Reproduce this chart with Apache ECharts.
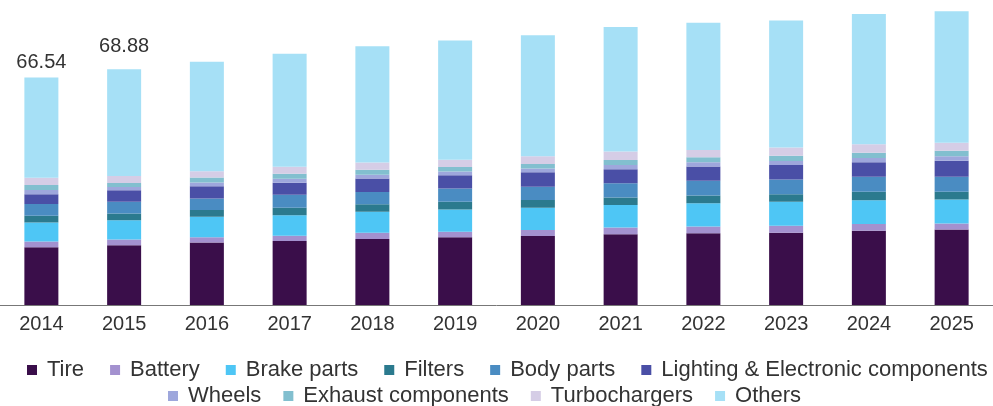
<!DOCTYPE html>
<html>
<head>
<meta charset="utf-8">
<script src="https://cdn.jsdelivr.net/npm/echarts@6/dist/echarts.min.js"></script>
<style>
html,body{margin:0;padding:0;background:#fff;}
#chart{width:993px;height:406px;}
</style>
</head>
<body>
<div id="chart"></div>
<script>
const years = ['2014','2015','2016','2017','2018','2019','2020','2021','2022','2023','2024','2025'];
const tire     = [16.9, 17.5, 18.3, 18.7, 19.3, 19.8, 20.2, 20.7, 21.0, 21.1, 21.7, 22.1];
const battery  = [1.65, 1.65, 1.5, 1.55, 1.85, 1.65, 1.75, 1.95, 1.95, 2.05, 1.95, 1.75];
const brake    = [5.6, 5.65, 6.0, 6.0, 6.1, 6.5, 6.5, 6.6, 6.8, 7.0, 7.0, 7.0];
const filters  = [1.95, 1.95, 1.95, 2.2, 2.2, 2.2, 2.25, 2.15, 2.25, 2.25, 2.45, 2.25];
const body     = [3.4, 3.4, 3.4, 3.8, 3.6, 3.9, 3.9, 4.2, 4.3, 4.3, 4.4, 4.4];
const lighting = [2.9, 3.4, 3.6, 3.5, 3.9, 3.9, 4.2, 4.1, 4.2, 4.2, 4.2, 4.7];
const wheels   = [1.2, 0.95, 1.1, 1.15, 1.15, 1.1, 1.1, 1.2, 1.2, 1.2, 1.25, 1.3];
const exhaust  = [1.5, 1.15, 1.4, 1.45, 1.45, 1.3, 1.3, 1.5, 1.5, 1.5, 1.55, 1.6];
const turbo    = [2.1, 2.05, 1.85, 2.1, 2.1, 2.1, 2.3, 2.45, 2.15, 2.45, 2.5, 2.35];
const others   = [29.3, 31.2, 32.0, 33.0, 34.0, 34.9, 35.4, 36.4, 37.2, 37.1, 38.1, 38.4];
const totalLabels = ['66.54', '68.88'];

const names = ['Tire','Battery','Brake parts','Filters','Body parts','Lighting & Electronic components','Wheels','Exhaust components','Turbochargers','Others'];
const values = [tire, battery, brake, filters, body, lighting, wheels, exhaust, turbo, others];
const colors = ['#3a0e4a','#a391cf','#4ec6f5','#2b7a8e','#4a8cc2','#4a4fa6','#9ea7dc','#82bfcf','#d5cde6','#a6e0f6'];
const labelDistance = [5, 13];

const series = names.map((n, i) => {
  let data = values[i];
  if (n === 'Others') {
    data = values[i].map((v, k) => k < totalLabels.length
      ? {value: v, label: {show: true, position: 'top', distance: labelDistance[k], formatter: totalLabels[k], color: '#333', fontSize: 20, fontFamily: 'Liberation Sans'}}
      : v);
  }
  return {
    name: n, type: 'bar', stack: 'total', barWidth: 34,
    itemStyle: {color: colors[i]},
    emphasis: {disabled: true},
    data: data
  };
});

const legendCommon = {
  icon: 'rect', itemWidth: 10, itemHeight: 10,
  textStyle: {fontSize: 22, color: '#333', fontFamily: 'Liberation Sans', padding: [0,0,0,5]},
  orient: 'horizontal', selectedMode: false
};

const chart = echarts.init(document.getElementById('chart'), null, {renderer: 'canvas'});
chart.setOption({
  animation: false,
  backgroundColor: '#fff',
  color: colors,
  grid: {left: -2, right: -13, top: 4, bottom: 101, containLabel: false},
  xAxis: {
    type: 'category', data: years,
    axisLine: {show: true, lineStyle: {color: '#777', width: 1}},
    axisTick: {show: false},
    axisLabel: {fontSize: 20, color: '#333', margin: 9, fontFamily: 'Liberation Sans', interval: 0}
  },
  yAxis: {type: 'value', min: 0, max: 88, show: false, splitLine: {show: false}},
  legend: [
    Object.assign({}, legendCommon, {data: names.slice(0, 6), left: 22, top: 354, itemGap: 26}),
    Object.assign({}, legendCommon, {data: names.slice(6), left: 163, top: 380, itemGap: 22})
  ],
  series: series
});
</script>
</body>
</html>
